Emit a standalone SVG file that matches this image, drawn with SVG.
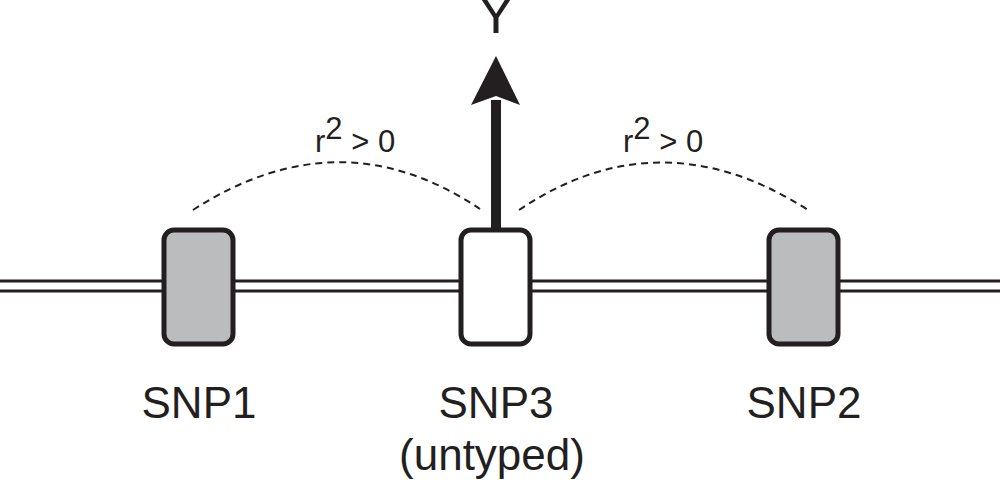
<svg xmlns="http://www.w3.org/2000/svg" width="1000" height="483" viewBox="0 0 1000 483">
<style>
.t{font-family:"Liberation Sans",Arial,sans-serif;fill:#231f20}
.lab{font-size:44px;text-anchor:middle}
.box{stroke:#231f20;stroke-width:5}
.dash{fill:none;stroke:#231f20;stroke-width:2;stroke-dasharray:7,5}
</style>
<rect width="1000" height="483" fill="#fff"/>
<g id="connectors">
<line x1="0" y1="281" x2="1000" y2="281" stroke="#231f20" stroke-width="3"/>
<line x1="0" y1="291" x2="1000" y2="291" stroke="#231f20" stroke-width="3"/>
<path class="dash" d="M193,210 Q340,115 480,209"/>
<path class="dash" d="M519,210 Q660,115 808,210"/>
<line x1="496" y1="230" x2="496" y2="100" stroke="#231f20" stroke-width="10"/>
<polygon points="496,56 471,105 496,96 520,105" fill="#231f20"/>
</g>
<g id="snp1"><rect class="box" x="164" y="230" width="69" height="114" rx="10" fill="#bbbcbe"/><text class="t lab" x="199" y="418">SNP1</text></g>
<g id="snp3"><rect class="box" x="461" y="230" width="69" height="114" rx="10" fill="#fff"/><text class="t lab" x="496" y="418">SNP3</text><text class="t lab" x="492" y="470">(untyped)</text></g>
<g id="snp2"><rect class="box" x="769" y="230" width="69" height="114" rx="10" fill="#bbbcbe"/><text class="t lab" x="804" y="418">SNP2</text></g>
<g id="y"><text class="t" x="496" y="33" font-size="54" text-anchor="middle">Y</text></g>
<g id="r1"><text class="t" x="315" y="152" font-size="31">r<tspan dy="-13">2</tspan><tspan dy="13"> &gt; 0</tspan></text></g>
<g id="r2"><text class="t" x="623" y="152" font-size="31">r<tspan dy="-13">2</tspan><tspan dy="13"> &gt; 0</tspan></text></g>
</svg>
